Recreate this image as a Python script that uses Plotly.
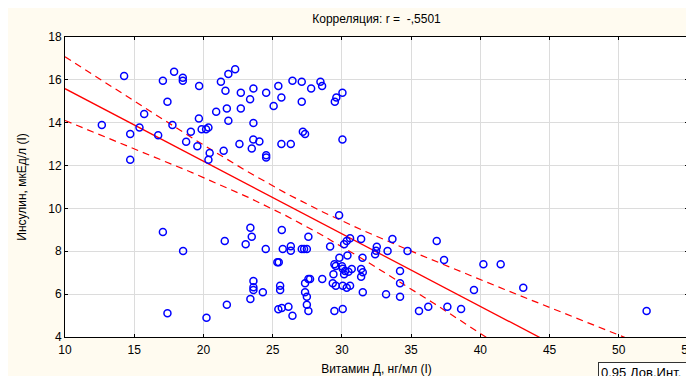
import numpy as np
import plotly.graph_objects as go

# ---- data ----
vitamin_d = [
    14.27, 17.88, 18.51, 18.51, 17.07, 19.69, 21.26, 21.80, 22.29, 21.59,
    22.70, 23.61, 24.53, 25.41, 23.37, 25.63, 25.07, 17.40, 15.72, 20.92,
    21.69, 22.70, 19.67, 21.80, 23.61, 12.66, 15.38, 17.76, 14.71, 16.73,
    19.09, 19.87, 20.19, 20.36, 18.75, 19.56, 20.45, 21.46, 22.60, 23.60,
    24.04, 23.49, 24.53, 24.53, 14.71, 20.36, 25.63, 26.31, 26.43, 27.10,
    27.78, 28.45, 28.57, 27.10, 30.04, 29.60, 29.49, 27.18, 27.34, 30.04,
    17.07, 18.53, 21.54, 23.39, 23.49, 23.05, 23.61, 23.61, 23.61, 23.39,
    21.69, 17.40, 20.22, 24.29, 25.66, 27.58, 24.50, 25.73, 26.31, 26.31,
    27.10, 27.27, 27.47, 29.15, 29.80, 30.59, 30.35, 30.16, 31.39, 33.65,
    32.52, 32.47, 32.40, 33.30, 34.74, 30.40, 29.82, 31.49, 25.34, 25.44,
    29.46, 29.56, 30.01, 30.06, 30.71, 30.23, 30.47, 31.39, 31.51, 30.16,
    29.39, 31.39, 34.20, 28.58, 27.58, 27.70, 27.34, 34.20, 29.34, 29.56,
    30.06, 30.59, 30.35, 25.54, 25.54, 27.34, 27.47, 31.51, 33.19, 34.20,
    27.47, 27.58, 25.41, 25.66, 26.14, 26.43, 29.46, 30.06, 36.85, 37.38,
    40.22, 41.47, 39.54, 43.10, 35.57, 36.24, 37.62, 38.61, 52.01,
]
insulin = [
    16.18, 16.38, 16.10, 15.96, 15.96, 15.71, 15.91, 16.27, 16.49, 15.49,
    15.40, 15.60, 15.40, 15.71, 15.09, 15.18, 14.78, 14.98, 14.41, 14.51,
    14.66, 14.66, 14.20, 14.09, 13.99, 13.89, 13.78, 13.89, 13.47, 13.41,
    13.58, 13.69, 13.69, 13.78, 13.11, 12.90, 12.59, 12.69, 13.01, 13.22,
    13.12, 12.80, 12.48, 12.38, 12.27, 12.27, 13.01, 13.01, 15.96, 15.91,
    15.60, 15.91, 15.71, 14.98, 15.40, 15.18, 14.98, 13.58, 13.47, 13.22,
    8.90, 8.01, 8.48, 9.10, 8.68, 8.33, 6.61, 6.32, 6.19, 5.77,
    5.51, 5.11, 4.90, 6.09, 8.99, 8.68, 8.11, 8.11, 8.23, 8.02,
    8.11, 8.11, 8.11, 8.22, 9.68, 8.61, 8.48, 8.33, 8.57, 8.57,
    8.21, 8.03, 7.86, 8.01, 8.01, 7.80, 7.70, 7.70, 7.49, 7.49,
    7.39, 7.31, 7.30, 7.19, 7.17, 7.08, 7.05, 7.17, 7.02, 6.93,
    6.93, 6.81, 7.08, 6.71, 6.71, 6.71, 6.51, 6.51, 6.51, 6.39,
    6.39, 6.39, 6.30, 6.39, 6.19, 6.09, 5.88, 6.09, 5.99, 5.88,
    5.51, 5.21, 5.29, 5.35, 5.41, 4.99, 5.21, 5.31, 8.48, 7.59,
    7.39, 7.39, 6.19, 6.30, 5.21, 5.41, 5.41, 5.31, 5.21,
]
x_ticks = [10, 15, 20, 25, 30, 35, 40, 45, 50, 55]
y_ticks = [4, 6, 8, 10, 12, 14, 16, 18]
title_text = "Корреляция: r = \u00a0-,5501"
x_title = "Витамин Д, нг/мл (I)"
y_title = "Инсулин, мкЕд/л (I)"
legend_text = "0.95 Дов.Инт.\u00a0\u00a0\u00a0"
T_975 = 1.976  # t quantile for the 0.95 confidence band

# ---- regression and confidence band computed from the data ----
xv = np.array(vitamin_d)
yv = np.array(insulin)
n = len(xv)
b, a = np.polyfit(xv, yv, 1)
resid = yv - (a + b * xv)
s = np.sqrt(np.sum(resid ** 2) / (n - 2))
sxx = np.sum((xv - xv.mean()) ** 2)
xg = np.linspace(x_ticks[0], x_ticks[-1], 300)
yg = a + b * xg
hw = T_975 * s * np.sqrt(1.0 / n + (xg - xv.mean()) ** 2 / sxx)

RED = "#FF0000"
fig = go.Figure()
fig.add_trace(go.Scatter(x=xg, y=yg + hw, mode="lines",
                         line=dict(color=RED, width=1.2, dash="7px,5px"),
                         hoverinfo="skip", showlegend=False))
fig.add_trace(go.Scatter(x=xg, y=yg - hw, mode="lines",
                         line=dict(color=RED, width=1.2, dash="7px,5px"),
                         hoverinfo="skip", showlegend=False))
fig.add_trace(go.Scatter(x=xg, y=yg, mode="lines",
                         line=dict(color=RED, width=1.3),
                         hoverinfo="skip", showlegend=False))
fig.add_trace(go.Scatter(x=vitamin_d, y=insulin, mode="markers",
                         marker=dict(symbol="circle-open", size=7,
                                     color="#0000FF", line=dict(width=1.5)),
                         showlegend=False))

# The page body adds an 8px offset; the figure is laid out for that.
W, H = 694, 376
L, T = 57, 29
R = W - 680
B = H - 329
pw, ph = W - L - R, H - T - B

def px2paper_x(p):
    return (p - L) / pw

def py2paper_y(p):
    return (H - B - p) / ph

fig.add_annotation(text=legend_text, xref="paper", yref="paper",
                   x=px2paper_x(590), y=py2paper_y(354),
                   xanchor="left", yanchor="top", showarrow=False,
                   font=dict(size=13, color="black"),
                   bordercolor="#333333", borderwidth=1, borderpad=2,
                   bgcolor="white")

FONT = "Liberation Sans, Arial, sans-serif"
axis_common = dict(showgrid=True, gridcolor="#DCDCDC", gridwidth=1,
                   showline=True, linecolor="black", linewidth=1,
                   mirror="allticks", ticks="inside", ticklen=3,
                   tickcolor="black", zeroline=False, automargin=False,
                   tickfont=dict(size=12, color="black"))
fig.update_layout(
    width=W, height=H,
    margin=dict(l=L, r=R, t=T, b=B),
    paper_bgcolor="#FFFBF0", plot_bgcolor="white",
    font=dict(family=FONT, size=12, color="black"),
    title=dict(text=title_text, x=(L + pw / 2) / W, xanchor="center",
               y=1 - 11 / H, yanchor="middle",
               font=dict(size=12, color="black")),
    xaxis=dict(range=[x_ticks[0], x_ticks[-1]], tickvals=x_ticks,
               ticklabelstandoff=2,
               title=dict(text=x_title, standoff=8,
                          font=dict(size=12)), **axis_common),
    yaxis=dict(range=[y_ticks[0], y_ticks[-1]], tickvals=y_ticks,
               title=dict(text=y_title, standoff=19,
                          font=dict(size=12)), **axis_common),
)
fig.write_html("out.html")
